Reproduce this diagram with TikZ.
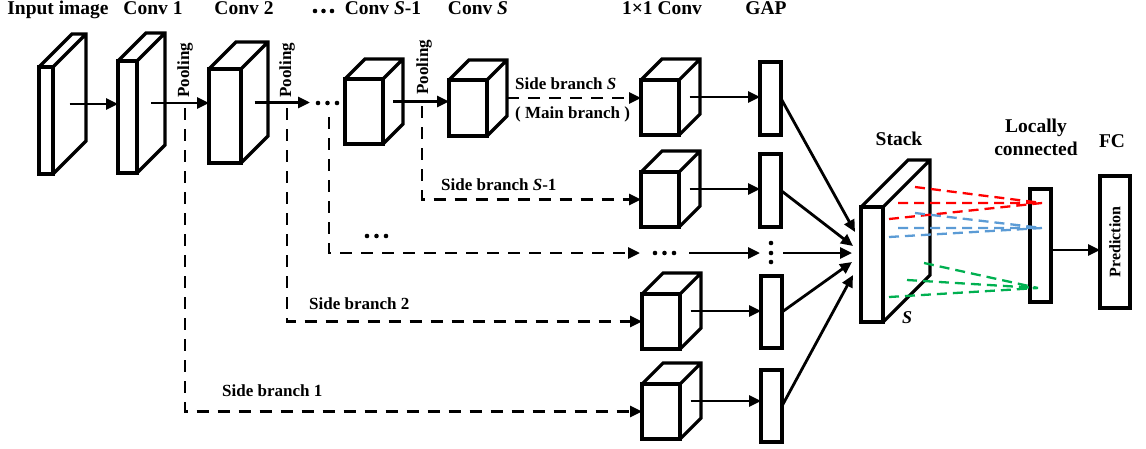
\documentclass[tikz,border=0pt]{standalone}
\usepackage{fontspec}
\setmainfont{Liberation Serif}
\usetikzlibrary{arrows.meta,calc}

\tikzset{
  face/.style={draw, line width=3.2pt, rectangle, inner sep=0pt, outer sep=0pt, fill=white},
  edge/.style={line width=3.2pt, line join=miter},
  arr/.style={line width=2.8pt, -{Triangle[length=12pt,width=11pt]}},
  darr/.style={arr, dash pattern=on 12pt off 9pt},
  head/.style={font=\fontsize{19.5}{22}\selectfont\bfseries, inner sep=0pt, anchor=base},
  lab/.style={font=\fontsize{17}{20}\selectfont\bfseries, inner sep=0pt, anchor=base west},
  pool/.style={lab, rotate=90},
  dot/.style={fill, circle, inner sep=0pt, minimum size=4.6pt},
  conn/.style={line width=2.3pt, dash pattern=on 10pt off 6pt},
}
\definecolor{lcred}{HTML}{FF0000}
\definecolor{lcblue}{HTML}{5B9BD5}
\definecolor{lcgreen}{HTML}{00B050}

% name, left, top, width, height, depth
\newcommand\cuboid[6]{%
  \node[face, minimum width=#4pt, minimum height=#5pt, anchor=north west] (#1) at (#2,#3) {};
  \draw[edge] (#1.north west) -- ++(#6,-#6) -- ++(#4,0) -- ++(0,#5) -- (#1.south east)
              (#1.north east) -- ++(#6,-#6);
  \coordinate (#1-s) at ($(#1.east)+(#6/2,-#6/2)$);
}
\newcommand\slab[5]{% name, left, top, width, height
  \node[face, minimum width=#4pt, minimum height=#5pt, anchor=north west] (#1) at (#2,#3) {};
}

\begin{document}
\begin{tikzpicture}[x=1pt,y=-1pt]
\useasboundingbox (0,0) rectangle (1146,448);

% column titles
\node[head] (h-in)  at (58,14)  {Input image};
\node[head] (h-c1)  at (153,14) {Conv 1};
\node[head] (h-c2)  at (244,14) {Conv 2};
\node[head] (h-cs1) at (383,14) {Conv \textit{S}-1};
\node[head] (h-cs)  at (478,14) {Conv \textit{S}};
\node[head] (h-k)   at (662,14) {1×1 Conv};
\node[head] (h-gap) at (766,14) {GAP};
\node[head] (h-st)  at (899,145) {Stack};
\node[head] (h-lc1) at (1036,132) {Locally};
\node[head] (h-lc2) at (1036,155) {connected};
\node[head] (h-fc)  at (1112,147) {FC};
\node[dot] (hd1) at (315,11) {};
\node[dot] (hd2) at (323.5,11) {};
\node[dot] (hd3) at (332,11) {};

% backbone
\cuboid{in}{39}{67}{14}{107}{33}
\cuboid{c1}{118}{61}{19}{112}{28}
\cuboid{c2}{209}{69}{32}{94}{27}
\cuboid{cs1}{345}{79}{38}{65}{20}
\cuboid{cs}{449}{80}{38}{56}{20}

% 1x1 convolutions
\cuboid{k1}{641}{80}{38}{55}{21}
\cuboid{k2}{641}{172}{38}{55}{21}
\cuboid{k3}{642}{294}{38}{55}{21}
\cuboid{k4}{642}{384}{38}{55}{21}

% global average pooling
\slab{g1}{760}{62}{21}{73}
\slab{g2}{760}{154}{21}{73}
\slab{g3}{761}{276}{21}{72}
\slab{g4}{761}{370}{21}{72}

% stack, locally connected, FC
\cuboid{st}{861}{207}{22}{115}{47}
\slab{lc}{1030}{189}{21}{113}
\slab{fc}{1100}{176}{30}{132}
\node[font=\fontsize{16}{18}\selectfont\bfseries, rotate=90, inner sep=0pt] (pred) at (fc.center) {Prediction};
\node[font=\fontsize{18}{20}\selectfont\bfseries\itshape, inner sep=0pt, anchor=base] (st-s) at (907,323) {S};

% backbone arrows
\coordinate (c2-end) at (310,0);
\draw[arr] (in-s) -- (in-s -| c1.west);
\draw[arr] (c1-s) -- (c1-s -| c2.west);
\draw[arr] (c2-s) -- (c2-s -| c2-end);
\node[dot] (bd1) at (318,103) {};
\node[dot] (bd2) at (327.5,103) {};
\node[dot] (bd3) at (337,103) {};
\draw[arr] (cs1-s) -- (cs1-s -| cs.west);

\node[pool] (pl1) at (189,98) {Pooling};
\node[pool] (pl2) at (291,98) {Pooling};
\node[pool] (pl3) at (428,95) {Pooling};

% side branches
\coordinate (cs-b) at ($(cs.east)+(20,-10)$);
\draw[darr] (cs-b) -- (cs-b -| k1.west);
\node[lab] (l-s) at (515,89) {Side branch \textit{S}};
\node[lab] (l-main) at (515,118) {( Main branch )};

\coordinate (p4) at (422,106);
\draw[darr] (p4) |- (k2.west);
\node[lab] (l-s1) at (441,190) {Side branch \textit{S}-1};

\coordinate (p3) at (329,117);
\coordinate (q3) at (640,253);
\draw[darr] (p3) |- (q3);
\node[dot] (md1) at (367,236) {};
\node[dot] (md2) at (376.5,236) {};
\node[dot] (md3) at (386,236) {};

\coordinate (p2) at (287,108);
\draw[darr] (p2) |- (k3.west);
\node[lab] (l-2) at (309,309) {Side branch 2};

\coordinate (p1) at (185,108);
\draw[darr] (p1) |- (k4.west);
\node[lab] (l-1) at (222,396) {Side branch 1};

% 1x1 conv to GAP
\draw[arr] (k1-s) -- (k1-s -| g1.west);
\draw[arr] (k2-s) -- (k2-s -| g2.west);
\draw[arr] (k3-s) -- (k3-s -| g3.west);
\draw[arr] (k4-s) -- (k4-s -| g4.west);

% elided row
\node[dot] (rd1) at (655,253) {};
\node[dot] (rd2) at (664.5,253) {};
\node[dot] (rd3) at (674,253) {};
\coordinate (r3a) at (689,253);
\draw[arr] (r3a) -- (r3a -| g1.west);
\node[dot] (vd1) at (771,243) {};
\node[dot] (vd2) at (771,253) {};
\node[dot] (vd3) at (771,262) {};

% GAP outputs into the stack
\coordinate (t1) at (855,232);
\coordinate (t2) at (853,246);
\coordinate (t3) at (852,253);
\coordinate (t4) at (852,262);
\coordinate (t5) at (853,275);
\coordinate (r3b) at (783,253);
\draw[arr] (g1.east) -- (t1);
\draw[arr] (g2.east) -- (t2);
\draw[arr] (r3b) -- (t3);
\draw[arr] (g3.east) -- (t4);
\draw[arr] (g4.east) -- (t5);

% locally connected weights
\coordinate (eR) at (1042,203);
\coordinate (eB) at (1042,228);
\coordinate (eG) at (1038,288);
\coordinate (sR1) at (915,187);
\coordinate (sR2) at (898,203);
\coordinate (sR3) at (889,219);
\coordinate (sB1) at (915,213);
\coordinate (sB2) at (898,228);
\coordinate (sB3) at (889,237);
\coordinate (sG1) at (924,263);
\coordinate (sG2) at (907,280);
\coordinate (sG3) at (889,297);
\draw[conn, lcred] (sR1) -- (eR) (sR2) -- (eR) (sR3) -- (eR);
\draw[conn, lcblue] (sB1) -- (eB) (sB2) -- (eB) (sB3) -- (eB);
\draw[conn, lcgreen] (sG1) -- (eG) (sG2) -- (eG) (sG3) -- (eG);

% locally connected to FC
\coordinate (lc-o) at (1051,250);
\draw[arr] (lc-o) -- (lc-o -| fc.west);
\end{tikzpicture}
\end{document}
